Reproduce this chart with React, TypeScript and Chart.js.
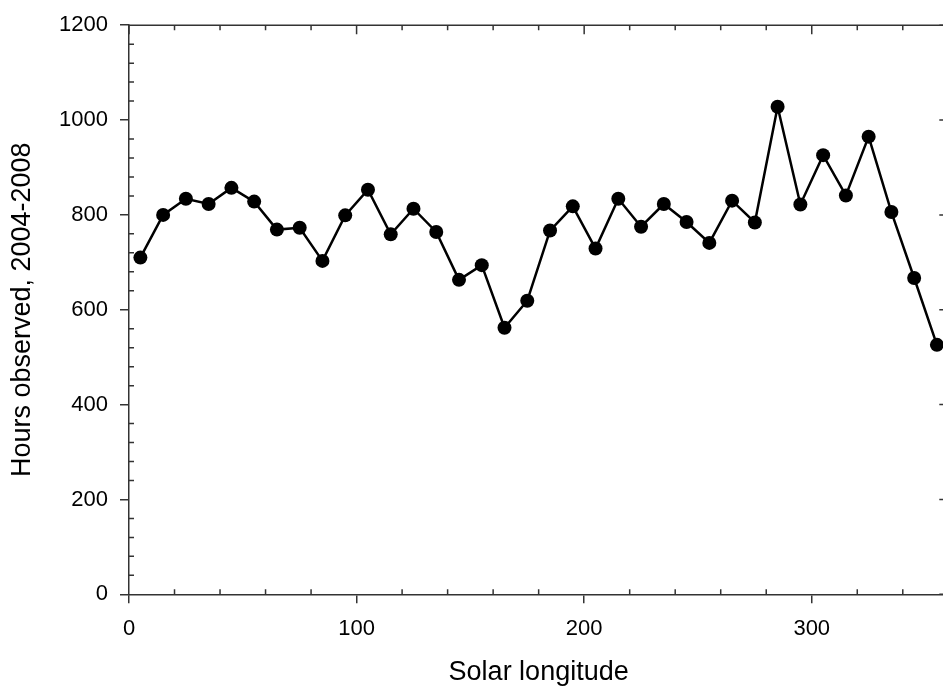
import React, { useEffect, useRef } from 'react';
import { Chart, registerables } from 'chart.js';

Chart.register(...registerables);

const solarLongitude = [5, 15, 25, 35, 45, 55, 65, 75, 85, 95, 105, 115, 125, 135, 145, 155, 165, 175, 185, 195, 205, 215, 225, 235, 245, 255, 265, 275, 285, 295, 305, 315, 325, 335, 345, 355];
const hoursObserved = [710, 800, 834, 823, 857, 828, 769, 773, 703, 799, 853, 759, 813, 764, 663, 694, 562, 619, 767, 818, 729, 834, 775, 823, 785, 741, 830, 784, 1028, 822, 926, 841, 965, 806, 667, 526];
const xTickValues = [0, 100, 200, 300];
const yTickValues = [0, 200, 400, 600, 800, 1000, 1200];
const xMinorStep = 20;
const yMinorStep = 40;
const xTitle = 'Solar longitude';
const yTitle = 'Hours observed, 2004-2008';

const AXIS_COLOR = '#333';
const FONT = '"Liberation Sans", Arial, sans-serif';

const frameAndMinorTicks = {
  id: 'frameAndMinorTicks',
  afterDraw(chart: any) {
    const { ctx, chartArea, scales } = chart;
    const { left, right, top, bottom } = chartArea;
    const x = scales.x;
    const y = scales.y;
    ctx.save();
    ctx.strokeStyle = AXIS_COLOR;
    ctx.lineWidth = 1.5;
    ctx.beginPath();
    ctx.moveTo(left, top);
    ctx.lineTo(right, top);
    ctx.lineTo(right, bottom);
    ctx.stroke();
    ctx.beginPath();
    for (let v = x.min; v <= x.max; v += xMinorStep) {
      const px = x.getPixelForValue(v);
      const major = xTickValues.includes(v);
      const len = major ? 9 : 5;
      if (!major) {
        ctx.moveTo(px, bottom);
        ctx.lineTo(px, bottom - len);
      }
      ctx.moveTo(px, top);
      ctx.lineTo(px, top + len);
    }
    for (let v = y.min; v <= y.max; v += yMinorStep) {
      const py = y.getPixelForValue(v);
      const major = yTickValues.includes(v);
      const len = major ? 9 : 5;
      if (!major) {
        ctx.moveTo(left, py);
        ctx.lineTo(left + len, py);
      }
      ctx.moveTo(right, py);
      ctx.lineTo(right - len, py);
    }
    ctx.stroke();
    ctx.restore();
  },
};

export default function App() {
  const canvasRef = useRef<HTMLCanvasElement | null>(null);

  useEffect(() => {
    const canvas = canvasRef.current;
    if (!canvas) return;
    const chart = new Chart(canvas, {
      type: 'line',
      data: {
        datasets: [
          {
            data: solarLongitude.map((lon, i) => ({ x: lon, y: hoursObserved[i] })),
            borderColor: '#000',
            backgroundColor: '#000',
            borderWidth: 2.5,
            pointRadius: 7,
            pointBackgroundColor: '#000',
            pointBorderColor: '#000',
            pointBorderWidth: 0,
            tension: 0,
          },
        ],
      },
      options: {
        animation: false,
        responsive: false,
        devicePixelRatio: 1,
        layout: { padding: { left: 0, top: 19.5, right: 11.7, bottom: 0 } },
        plugins: { legend: { display: false }, tooltip: { enabled: false } },
        scales: {
          x: {
            type: 'linear',
            min: 0,
            max: 360,
            afterBuildTicks: (scale: any) => {
              scale.ticks = xTickValues.map((v) => ({ value: v }));
            },
            afterFit: (scale: any) => {
              scale.height = 95.7;
            },
            ticks: {
              color: '#000',
              font: { family: FONT, size: 22 },
              padding: 12,
              maxRotation: 0,
              autoSkip: false,
              callback: (v: any) => String(v),
            },
            grid: {
              display: true,
              drawOnChartArea: false,
              drawTicks: true,
              tickLength: 9,
              color: AXIS_COLOR,
              lineWidth: 1.5,
            },
            border: { display: true, color: AXIS_COLOR, width: 1.5 },
            title: {
              display: true,
              text: xTitle,
              color: '#000',
              font: { family: FONT, size: 27 },
              padding: { top: 0, bottom: 1 },
            },
          },
          y: {
            type: 'linear',
            min: 0,
            max: 1200,
            afterBuildTicks: (scale: any) => {
              scale.ticks = yTickValues.map((v) => ({ value: v }));
            },
            afterFit: (scale: any) => {
              scale.width = 129;
            },
            ticks: {
              color: '#000',
              font: { family: FONT, size: 22 },
              padding: 12,
              autoSkip: false,
              callback: (v: any) => String(v),
            },
            grid: {
              display: true,
              drawOnChartArea: false,
              drawTicks: true,
              tickLength: 9,
              color: AXIS_COLOR,
              lineWidth: 1.5,
            },
            border: { display: true, color: AXIS_COLOR, width: 1.5 },
            title: {
              display: true,
              text: yTitle,
              color: '#000',
              font: { family: FONT, size: 27 },
              padding: { top: 6, bottom: 0 },
            },
          },
        },
      },
      plugins: [frameAndMinorTicks],
    } as any);
    return () => chart.destroy();
  }, []);

  return (
    <div style={{ position: 'fixed', left: 0, top: 0, width: 943, height: 690, overflow: 'hidden', background: '#fff' }}>
      <canvas ref={canvasRef} width={960} height={690} style={{ width: 960, height: 690, display: 'block' }} />
    </div>
  );
}
